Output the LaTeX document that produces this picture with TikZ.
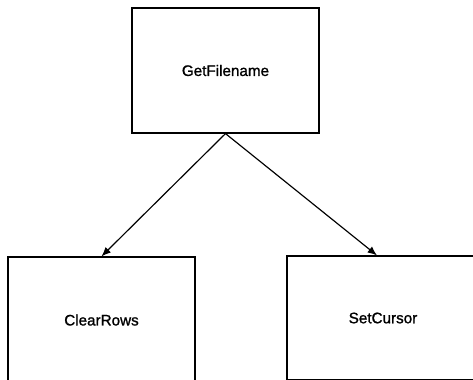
\documentclass[tikz,border=0pt]{standalone}
\usepackage{fontspec}
\setmainfont{Liberation Sans}
\newfontfamily\heavyfont[FakeBold=1.2]{Liberation Sans}
\usetikzlibrary{arrows.meta, positioning}

\begin{document}
\begin{tikzpicture}[
    x=0.03cm, y=-0.03cm,
    module/.style={draw, line width=1pt, minimum width=5.61cm,
                   minimum height=3.75cm, font=\heavyfont\fontsize{13}{15}\selectfont},
    line width=1pt,
    >={Latex[length=8pt, width=6.5pt]}
  ]
  \useasboundingbox (0,0) rectangle (473,379);
  \clip (0,0) rectangle (473,379);

  % Modules
  \node[module] (getname) at (225.5,70.5) {GetFilename};
  \node[module, minimum height=3.78cm] (clear) at (101.5,320) {ClearRows};
  \node[module, minimum width=5.76cm, minimum height=3.72cm] (cursor) at (383,318) {SetCursor};

  % Calls
  \draw[->] (getname.south) -- (clear.north);
  \draw[->] (getname.south) -- ([xshift=-0.18cm]cursor.north);
\end{tikzpicture}
\end{document}
